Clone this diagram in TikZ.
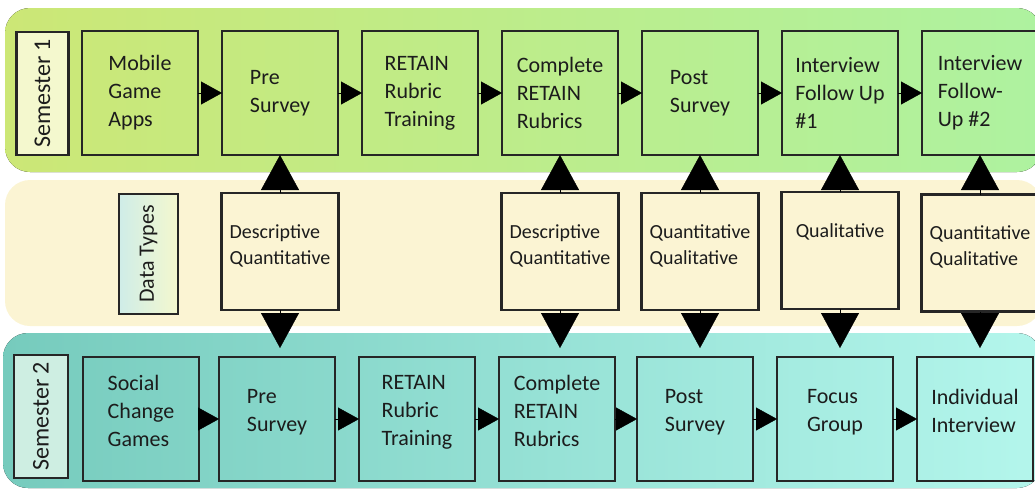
\documentclass[tikz,border=0pt]{standalone}
\usepackage{fontspec}
\setmainfont{Carlito}
\usetikzlibrary{positioning, arrows.meta}

\definecolor{bandoneleft}{RGB}{204,231,118}
\definecolor{bandoneright}{RGB}{174,242,160}
\definecolor{bandtypes}{RGB}{251,244,211}
\definecolor{bandtwoleft}{RGB}{118,203,189}
\definecolor{bandtworight}{RGB}{180,246,236}
\definecolor{semonefill}{RGB}{244,248,206}
\definecolor{semtwofill}{RGB}{206,238,226}
\definecolor{inkgray}{RGB}{28,28,28}

\begin{document}
\begin{tikzpicture}[x=1pt, y=-1pt, text=inkgray]
    % Setup the styles for boxes and arrows
    \tikzset{step box/.style={draw=black!85, line width=2.5pt, outer sep=0pt,
                              minimum width=116pt, minimum height=124pt,
                              align=left, font=\fontsize{22}{28}\selectfont},
             sem box/.style={draw=black!85, line width=2.5pt, outer sep=0pt, rotate=90,
                             minimum width=123pt, minimum height=52pt,
                             font=\fontsize{24}{28}\selectfont},
             type box/.style={draw=black!85, line width=2.5pt, outer sep=0pt,
                              fill=bandtypes, minimum width=117pt, minimum height=117pt},
             type text/.style={anchor=north, align=left, inner sep=0pt,
                               yshift=-31pt, font=\fontsize{20}{26}\selectfont},
             flow arrow/.style={-{Triangle[length=21pt, width=23pt]}, line width=0.4pt},
             data arrow/.style={-{Triangle[length=35pt, width=38pt]}, line width=0.4pt}}

    \useasboundingbox (0,0) rectangle (1035,490);
    \clip (0,0) rectangle (1035,490);

    % Draw the three bands
    \fill[left color=bandoneleft, right color=bandoneright, rounded corners=25pt]
        (5,8) rectangle (1042,172);
    \fill[bandtypes, rounded corners=25pt] (5,180) rectangle (1042,326);
    \fill[left color=bandtwoleft, right color=bandtworight, rounded corners=25pt]
        (3,333) rectangle (1042,488);

    % Semester 1 row
    \node[sem box, fill=semonefill] (s1) at (42.5,93.5) {Semester 1};
    \node[step box] at (140,93) (t1) {Mobile\\Game\\Apps};
    \node[step box, right=24pt of t1] (t2) {Pre\\Survey};
    \node[step box, right=24pt of t2] (t3) {RETAIN\\Rubric\\Training};
    \node[step box, right=24pt of t3] (t4) {Complete\\RETAIN\\Rubrics};
    \node[step box, right=24pt of t4] (t5) {Post\\Survey};
    \node[step box, right=24pt of t5] (t6) {Interview\\Follow Up\\\#1};
    \node[step box, right=24pt of t6] (t7) {Interview\\Follow-\\Up \#2};

    % Data types row
    \node[sem box, left color=bandtwoleft!35!white, right color=semonefill,
          minimum width=120pt, minimum height=59pt,
          font=\fontsize{22}{28}\selectfont] (dt) at (148.5,254) {Data Types};
    \node[type box, label={[type text]north:Descriptive\\Quantitative}]
        (m2) at (280,251.5) {};
    \node[type box, label={[type text]north:Descriptive\\Quantitative}]
        (m4) at (560,251.5) {};
    \node[type box, label={[type text]north:Quantitative\\Qualitative}]
        (m5) at (700,251.5) {};
    \node[type box, label={[type text]north:Qualitative}]
        (m6) at (840,250.5) {};
    \node[type box, label={[type text]north:Quantitative\\Qualitative}]
        (m7) at (980,253) {};

    % Semester 2 row (text sits a little high in these boxes)
    \tikzset{low box/.style={step box, text depth=17pt}}
    \node[sem box, fill=semtwofill, minimum height=54pt] (s2) at (41,416.5) {Semester 2};
    \node[low box] at (141,419) (b1) {Social\\Change\\Games};
    \node[low box, right=20pt of b1] (b2) {Pre\\Survey};
    \node[low box, right=24pt of b2] (b3) {RETAIN\\Rubric\\Training};
    \node[low box, right=24pt of b3] (b4) {Complete\\RETAIN\\Rubrics};
    \node[low box, right=22pt of b4] (b5) {Post\\Survey};
    \node[low box, right=24pt of b5] (b6) {Focus\\Group};
    \node[low box, right=24pt of b6] (b7) {Individual\\Interview};

    % Connect the steps of each semester
    \draw[flow arrow]
        (t1) edge (t2) (t2) edge (t3) (t3) edge (t4)
        (t4) edge (t5) (t5) edge (t6) (t6) edge (t7);
    \draw[flow arrow]
        (b1) edge (b2) (b2) edge (b3) (b3) edge (b4)
        (b4) edge (b5) (b5) edge (b6) (b6) edge (b7);

    % Data types feed both semesters
    \foreach \col in {2,4,5,6,7} {
        \draw[data arrow] (m\col.north) -- (m\col.north |- t\col.south);
        \draw[data arrow, shorten >=9pt] (m\col.south) -- (m\col.south |- b\col.north);
    }
\end{tikzpicture}
\end{document}
